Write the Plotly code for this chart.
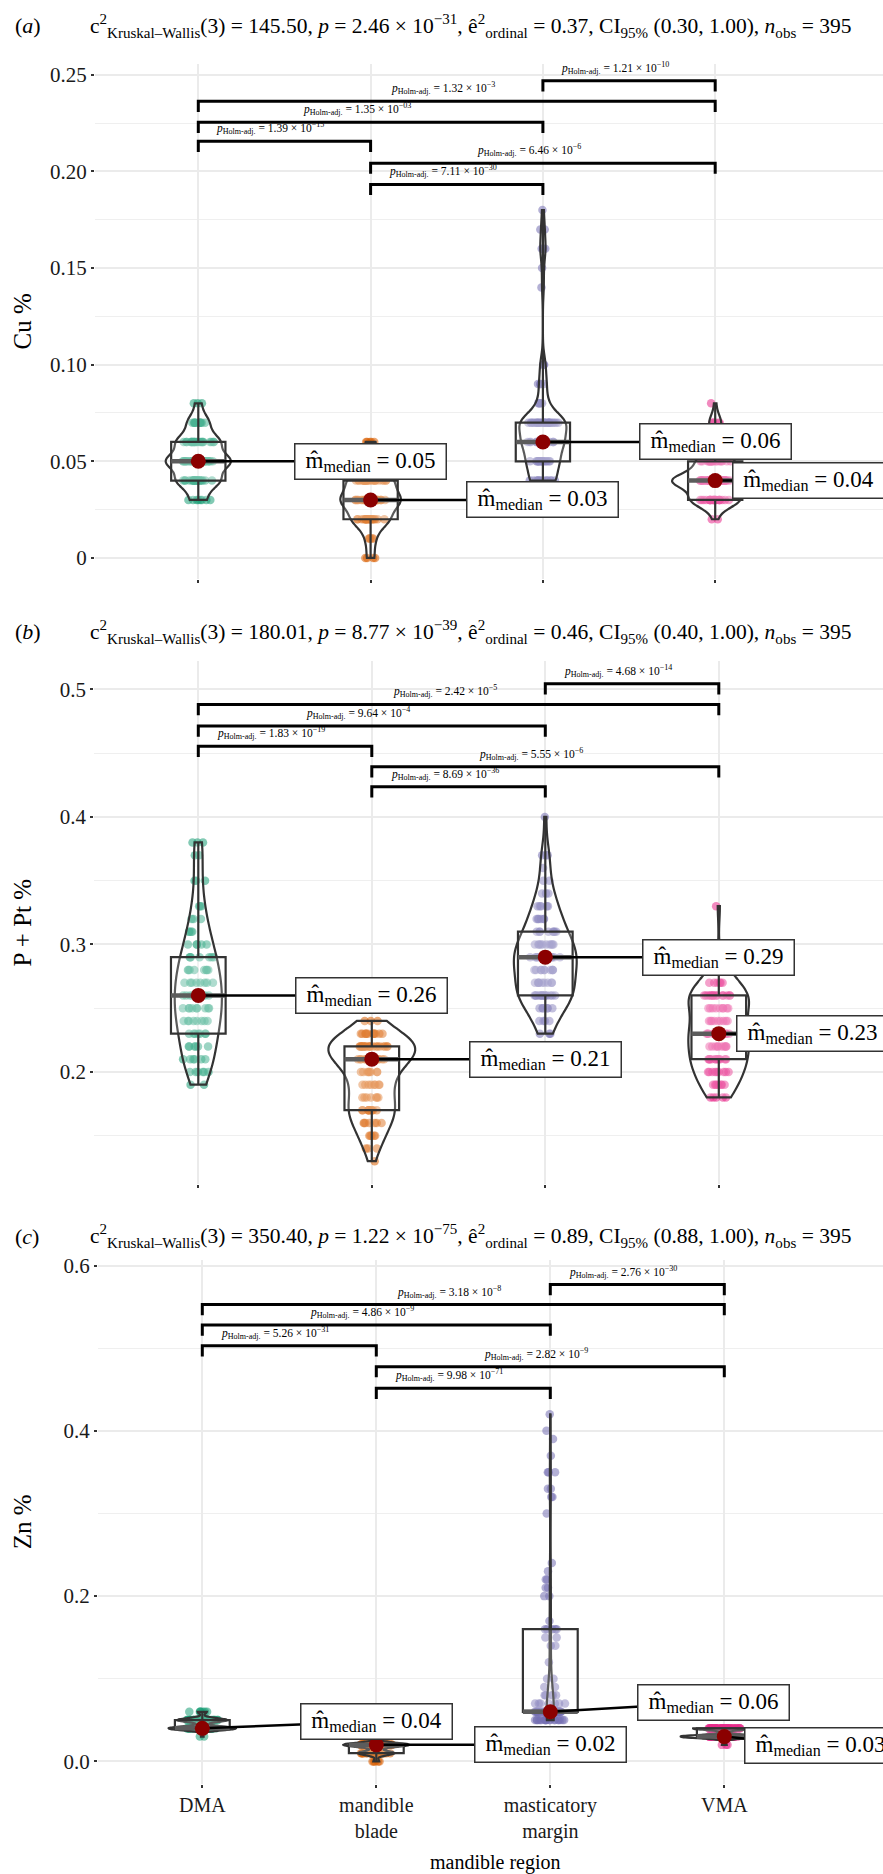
import numpy as np
import plotly.graph_objects as go

FIG_W, FIG_H = 883, 1874
SERIF = "Liberation Serif"

categories = ["DMA", "mandible<br>blade", "masticatory<br>margin", "VMA"]
group_colors = ["#1B9E77", "#D95F02", "#7570B3", "#E7298A"]

# ---------------- Panel (a): Cu % ----------------
cu_dma_levels = [0.03, 0.04, 0.05, 0.06, 0.07, 0.08]
cu_dma_counts = [8, 22, 33, 22, 11, 3]
cu_blade_levels = [0.00, 0.01, 0.02, 0.03, 0.04, 0.05, 0.06]
cu_blade_counts = [4, 5, 20, 32, 24, 9, 5]
cu_mast_levels = [0.04, 0.05, 0.06, 0.07, 0.08, 0.09, 0.10, 0.14, 0.15, 0.16, 0.17, 0.18]
cu_mast_counts = [14, 17, 22, 26, 5, 4, 3, 1, 1, 3, 2, 1]
cu_vma_levels = [0.02, 0.03, 0.04, 0.05, 0.06, 0.07, 0.08]
cu_vma_counts = [2, 24, 43, 18, 4, 6, 1]

# ---------------- Panel (b): P + Pt % ----------------
ppt_dma_levels = [0.19, 0.20, 0.21, 0.22, 0.23, 0.24, 0.25, 0.26, 0.27, 0.28, 0.29,
                  0.30, 0.31, 0.32, 0.33, 0.35, 0.37, 0.38]
ppt_dma_counts = [2, 6, 6, 6, 7, 8, 9, 9, 8, 8, 7, 5, 4, 3, 3, 3, 2, 3]
ppt_blade_levels = [0.13, 0.14, 0.15, 0.16, 0.17, 0.18, 0.19, 0.20, 0.21, 0.22, 0.23, 0.24]
ppt_blade_counts = [1, 3, 5, 7, 10, 7, 8, 8, 15, 20, 12, 3]
ppt_mast_levels = [0.23, 0.24, 0.25, 0.26, 0.27, 0.28, 0.29, 0.30, 0.31, 0.32, 0.33,
                   0.34, 0.35, 0.36, 0.37, 0.40]
ppt_mast_counts = [3, 4, 6, 14, 9, 10, 14, 10, 8, 6, 5, 3, 2, 1, 3, 1]
ppt_vma_levels = [0.18, 0.19, 0.20, 0.21, 0.22, 0.23, 0.24, 0.25, 0.26, 0.27, 0.28, 0.33]
ppt_vma_counts = [5, 7, 9, 11, 10, 12, 9, 9, 15, 6, 4, 1]

# ---------------- Panel (c): Zn % ----------------
zn_dma_levels = [0.03, 0.04, 0.05, 0.06]
zn_dma_counts = [2, 52, 38, 7]
zn_blade_levels = [0.00, 0.01, 0.02, 0.03]
zn_blade_counts = [5, 30, 55, 9]
zn_mast_levels = [0.05, 0.06, 0.07, 0.08, 0.09, 0.10, 0.12, 0.14, 0.15, 0.16, 0.17, 0.20,
                  0.21, 0.22, 0.23, 0.24, 0.30, 0.32, 0.33, 0.35, 0.37, 0.39, 0.40, 0.42]
zn_mast_counts = [20, 32, 7, 5, 2, 2, 1, 2, 2, 5, 1, 2, 2, 2, 1, 1, 1, 2, 2, 3, 1, 1, 1, 1]
zn_vma_levels = [0.02, 0.03, 0.04]
zn_vma_counts = [3, 55, 40]

# pairwise comparisons (group indices) and Holm-adjusted p labels
comparison_pairs = [(2, 3), (0, 3), (0, 2), (0, 1), (1, 3), (1, 2)]
cu_pvalues = ["1.21 × 10<sup>−10</sup>", "1.32 × 10<sup>−3</sup>", "1.35 × 10<sup>−03</sup>",
              "1.39 × 10<sup>−15</sup>", "6.46 × 10<sup>−6</sup>", "7.11 × 10<sup>−30</sup>"]
ppt_pvalues = ["4.68 × 10<sup>−14</sup>", "2.42 × 10<sup>−5</sup>", "9.64 × 10<sup>−4</sup>",
               "1.83 × 10<sup>−19</sup>", "5.55 × 10<sup>−6</sup>", "8.69 × 10<sup>−36</sup>"]
zn_pvalues = ["2.76 × 10<sup>−30</sup>", "3.18 × 10<sup>−8</sup>", "4.86 × 10<sup>−9</sup>",
              "5.26 × 10<sup>−31</sup>", "2.82 × 10<sup>−9</sup>", "9.98 × 10<sup>−71</sup>"]

# bracket heights (data units)
cu_bracket_y = [0.2469, 0.2363, 0.2254, 0.2156, 0.2043, 0.1933]
ppt_bracket_y = [0.5044, 0.4882, 0.4713, 0.4554, 0.4393, 0.4236]
zn_bracket_y = [0.5770, 0.5528, 0.5280, 0.5030, 0.4777, 0.4515]

# median-label positions (data units, placed by repel in the original)
cu_label_x = [1.0, 2.0, 3.0, 3.54]
cu_label_y = [0.05, 0.03, 0.06, 0.04]
ppt_label_x = [1.0, 2.0, 3.0, 3.54]
ppt_label_y = [0.26, 0.21, 0.29, 0.23]
zn_label_x = [1.0, 2.0, 2.94, 3.55]
zn_label_y = [0.0483, 0.02, 0.0715, 0.0187]

# statistics headers
cu_stats = ("c<sup>2</sup><sub>Kruskal–Wallis</sub>(3) = 145.50, <i>p</i> = 2.46 × 10<sup>−31</sup>, "
            "ê<sup>2</sup><sub>ordinal</sub> = 0.37, CI<sub>95%</sub> (0.30, 1.00), <i>n</i><sub>obs</sub> = 395")
ppt_stats = ("c<sup>2</sup><sub>Kruskal–Wallis</sub>(3) = 180.01, <i>p</i> = 8.77 × 10<sup>−39</sup>, "
             "ê<sup>2</sup><sub>ordinal</sub> = 0.46, CI<sub>95%</sub> (0.40, 1.00), <i>n</i><sub>obs</sub> = 395")
zn_stats = ("c<sup>2</sup><sub>Kruskal–Wallis</sub>(3) = 350.40, <i>p</i> = 1.22 × 10<sup>−75</sup>, "
            "ê<sup>2</sup><sub>ordinal</sub> = 0.89, CI<sub>95%</sub> (0.88, 1.00), <i>n</i><sub>obs</sub> = 395")

cu_ticks = [0, 0.05, 0.10, 0.15, 0.20, 0.25]
cu_ticktext = ["0", "0.05", "0.10", "0.15", "0.20", "0.25"]
ppt_ticks = [0.2, 0.3, 0.4, 0.5]
ppt_ticktext = ["0.2", "0.3", "0.4", "0.5"]
zn_ticks = [0.0, 0.2, 0.4, 0.6]
zn_ticktext = ["0.0", "0.2", "0.4", "0.6"]

panels = [
    dict(tag="a", ytitle="Cu %", stats=cu_stats,
         levels=[cu_dma_levels, cu_blade_levels, cu_mast_levels, cu_vma_levels],
         counts=[cu_dma_counts, cu_blade_counts, cu_mast_counts, cu_vma_counts],
         pvals=cu_pvalues, brackets=cu_bracket_y, tip=0.0055, lx=cu_label_x, ly=cu_label_y,
         ticks=cu_ticks, ticktext=cu_ticktext, minor=[0.025, 0.075, 0.125, 0.175, 0.225],
         x0=198.3, unit=172.3, top=58.0, bottom=575.0, yrange=[-0.011, 0.2557], title_y=20),
    dict(tag="b", ytitle="P + Pt %", stats=ppt_stats,
         levels=[ppt_dma_levels, ppt_blade_levels, ppt_mast_levels, ppt_vma_levels],
         counts=[ppt_dma_counts, ppt_blade_counts, ppt_mast_counts, ppt_vma_counts],
         pvals=ppt_pvalues, brackets=ppt_bracket_y, tip=0.0084, lx=ppt_label_x, ly=ppt_label_y,
         ticks=ppt_ticks, ticktext=ppt_ticktext, minor=[0.15, 0.25, 0.35, 0.45],
         x0=198.3, unit=173.5, top=656.7, bottom=1182.0, yrange=[0.1119, 0.5226], title_y=628),
    dict(tag="c", ytitle="Zn %", stats=zn_stats,
         levels=[zn_dma_levels, zn_blade_levels, zn_mast_levels, zn_vma_levels],
         counts=[zn_dma_counts, zn_blade_counts, zn_mast_counts, zn_vma_counts],
         pvals=zn_pvalues, brackets=zn_bracket_y, tip=0.013, lx=zn_label_x, ly=zn_label_y,
         ticks=zn_ticks, ticktext=zn_ticktext, minor=[0.1, 0.3, 0.5],
         x0=202.3, unit=174.0, top=1258.3, bottom=1784.0, yrange=[-0.0277, 0.6064], title_y=1234),
]


def nrd0(x):
    hi = np.std(x, ddof=1)
    q75, q25 = np.percentile(x, [75, 25])
    lo = min(hi, (q75 - q25) / 1.34)
    if lo == 0:
        lo = hi if hi > 0 else 1.0
    return 0.9 * lo * len(x) ** (-0.2)


def kde_peak(x, bw):
    grid = np.linspace(x.min(), x.max(), 512)
    d = np.exp(-0.5 * ((grid[:, None] - x[None, :]) / bw) ** 2).sum(1)
    return (d / (len(x) * bw * np.sqrt(2 * np.pi))).max()


fig = go.Figure()
annotations = []
OUTLINE = "#333333"
BOX_W = 0.315

for p, P in enumerate(panels):
    s = "" if p == 0 else str(p + 1)
    xa, ya = "x" + s, "y" + s
    groups = [np.repeat(np.array(lv, float), c) for lv, c in zip(P["levels"], P["counts"])]
    bws = [nrd0(g) for g in groups]
    peaks = np.array([kde_peak(g, b) for g, b in zip(groups, bws)])
    widths = 0.5 * peaks / peaks.max()
    meds = [float(np.median(g)) for g in groups]

    # jittered observations (drawn underneath the outlines)
    for gi, g in enumerate(groups):
        fig.add_trace(go.Violin(
            x=[gi] * len(g), y=g, xaxis=xa, yaxis=ya, width=0.2, points="all",
            jitter=0.9, pointpos=0, spanmode="hard", bandwidth=bws[gi],
            line=dict(width=0, color="rgba(0,0,0,0)"), fillcolor="rgba(0,0,0,0)",
            marker=dict(color=group_colors[gi], size=8.5, opacity=0.55, line=dict(width=0)),
            showlegend=False, hoverinfo="skip"))
    # violins (area-scaled like ggplot)
    for gi, g in enumerate(groups):
        fig.add_trace(go.Violin(
            x=[gi] * len(g), y=g, xaxis=xa, yaxis=ya, width=float(widths[gi]),
            scalemode="width", spanmode="hard", bandwidth=bws[gi], points=False,
            line=dict(color=OUTLINE, width=2.2), fillcolor="rgba(255,255,255,0.2)",
            showlegend=False, hoverinfo="skip"))
    # boxes
    for gi, g in enumerate(groups):
        fig.add_trace(go.Box(
            x=[gi] * len(g), y=g, xaxis=xa, yaxis=ya, width=BOX_W, boxpoints=False,
            whiskerwidth=0, line=dict(color=OUTLINE, width=2.2),
            fillcolor="rgba(255,255,255,0.2)", showlegend=False, hoverinfo="skip"))
    # thick median bars
    for gi in range(4):
        fig.add_trace(go.Scatter(
            x=[gi - BOX_W / 2, gi + BOX_W / 2], y=[meds[gi], meds[gi]], xaxis=xa, yaxis=ya,
            mode="lines", line=dict(color="#5c5c5c", width=4.5), showlegend=False, hoverinfo="skip"))
    # brackets
    tip = P["tip"]
    for (a, b), lvl, ptxt in zip(comparison_pairs, P["brackets"], P["pvals"]):
        fig.add_trace(go.Scatter(
            x=[a, a, b, b], y=[lvl - tip, lvl, lvl, lvl - tip], xaxis=xa, yaxis=ya,
            mode="lines", line=dict(color="black", width=3), showlegend=False, hoverinfo="skip"))
        annotations.append(dict(
            x=(a + b) / 2, y=lvl, xref=xa, yref=ya, xanchor="center", yanchor="bottom",
            xshift=-14, yshift=3, showarrow=False,
            text="<i>p</i><sub>Holm-adj.</sub> = " + ptxt,
            font=dict(family=SERIF, size=11.5, color="black")))
    # label connectors
    for gi in range(4):
        fig.add_trace(go.Scatter(
            x=[gi, P["lx"][gi]], y=[meds[gi], P["ly"][gi]], xaxis=xa, yaxis=ya,
            mode="lines", line=dict(color="black", width=2.5), showlegend=False, hoverinfo="skip"))
    # median points
    fig.add_trace(go.Scatter(
        x=list(range(4)), y=meds, xaxis=xa, yaxis=ya, mode="markers",
        marker=dict(color="#8B0000", size=15), showlegend=False, hoverinfo="skip"))
    # median labels
    for gi in range(4):
        annotations.append(dict(
            x=P["lx"][gi], y=P["ly"][gi], xref=xa, yref=ya, showarrow=False,
            text="m\u0302<sub>median</sub> = %.2f" % meds[gi],
            font=dict(family=SERIF, size=23, color="black"), width=147, height=31,
            align="center", valign="middle",
            bgcolor="white", bordercolor=OUTLINE, borderwidth=1.5, borderpad=1.5))

    left_px = P["x0"] - 0.6 * P["unit"]
    fig.layout["xaxis" + s] = dict(
        domain=[left_px / FIG_W, 1.0], range=[-0.6, (FIG_W - P["x0"]) / P["unit"]],
        anchor=ya, tickmode="array", tickvals=[0, 1, 2, 3], ticktext=categories,
        showticklabels=(p == 2), ticks="outside", ticklen=3, tickwidth=2, tickcolor=OUTLINE,
        showgrid=True, gridcolor="#EBEBEB", gridwidth=1.7, zeroline=False, showline=False,
        tickfont=dict(family=SERIF, size=20, color="#1a1a1a"))
    fig.layout["yaxis" + s] = dict(
        domain=[1 - P["bottom"] / FIG_H, 1 - P["top"] / FIG_H], range=P["yrange"],
        anchor=xa, tickmode="array", tickvals=P["ticks"], ticktext=P["ticktext"],
        ticks="outside", ticklen=3, tickwidth=2, tickcolor=OUTLINE,
        showgrid=True, gridcolor="#EBEBEB", gridwidth=2, zeroline=False, showline=False,
        minor=dict(tickmode="array", tickvals=P["minor"], showgrid=True,
                   gridcolor="#EFEFEF", gridwidth=1.3, ticks=""),
        tickfont=dict(family=SERIF, size=21, color="#1a1a1a"))

    # panel tag and header
    annotations.append(dict(x=13 / FIG_W, y=1 - P["title_y"] / FIG_H, xref="paper", yref="paper",
                            xanchor="left", yanchor="middle", showarrow=False,
                            text="(<i>%s</i>)" % P["tag"],
                            font=dict(family=SERIF, size=22, color="black")))
    annotations.append(dict(x=88 / FIG_W, y=1 - P["title_y"] / FIG_H, xref="paper", yref="paper",
                            xanchor="left", yanchor="middle", showarrow=False, text=P["stats"],
                            font=dict(family=SERIF, size=21.5, color="black")))
    annotations.append(dict(x=22 / FIG_W, y=1 - (P["top"] + P["bottom"]) / 2 / FIG_H,
                            xref="paper", yref="paper", xanchor="center", yanchor="middle",
                            textangle=-90, showarrow=False, text=P["ytitle"],
                            font=dict(family=SERIF, size=25, color="black")))

annotations.append(dict(x=495 / FIG_W, y=1 - 1862 / FIG_H, xref="paper", yref="paper",
                        xanchor="center", yanchor="middle", showarrow=False,
                        text="mandible region", font=dict(family=SERIF, size=20, color="black")))

fig.update_layout(
    width=FIG_W, height=FIG_H, autosize=False,
    margin=dict(l=0, r=0, t=0, b=0),
    paper_bgcolor="white", plot_bgcolor="white",
    violinmode="overlay", boxmode="overlay",
    showlegend=False, annotations=annotations,
    font=dict(family=SERIF, color="black"))

fig.write_html("out.html", config={"displayModeBar": False},
               post_script="document.body.style.margin='0px';document.body.style.padding='0px';")
